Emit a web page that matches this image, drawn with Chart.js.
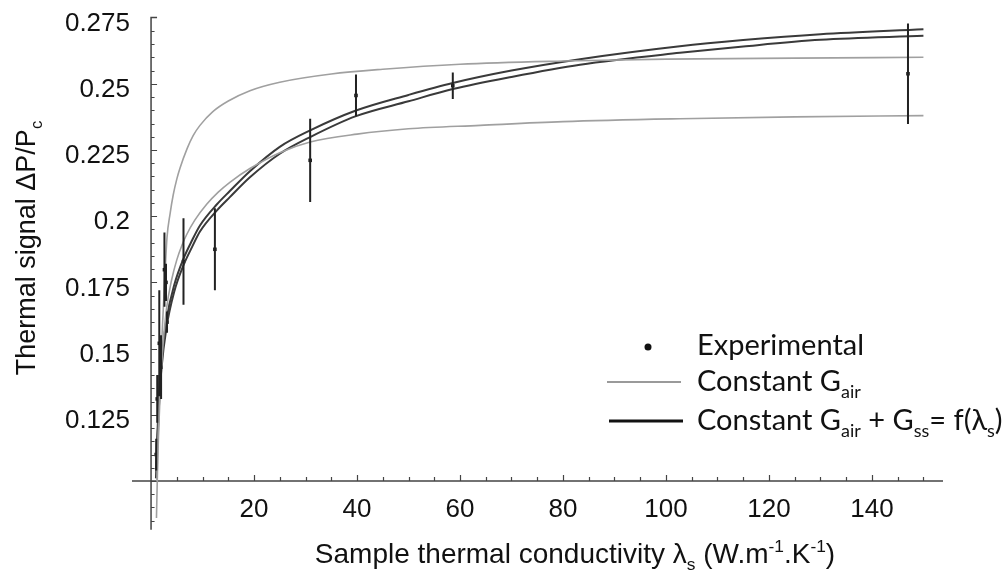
<!DOCTYPE html>
<html>
<head>
<meta charset="utf-8">
<script src="https://cdn.jsdelivr.net/npm/chart.js@4.4.0/dist/chart.umd.min.js"></script>
<style>
  html, body { margin: 0; padding: 0; background: #fff; }
  #chart { display: block; }
</style>
</head>
<body>
<canvas id="chart" width="1007" height="573"></canvas>
<script>
// Experimental points (x = lambda_s, y = dP/Pc, half error bar)
const expX   = [1.0, 1.2, 1.6, 1.95, 2.6, 2.9, 3.1, 6.3, 12.4, 30.9, 39.8, 58.6, 147.0];
const expY   = [0.110, 0.131, 0.152, 0.143, 0.1798, 0.175, 0.160, 0.1829, 0.1875, 0.2211, 0.2456, 0.2493, 0.2538];
const expErr = [0.006, 0.009, 0.020, 0.012, 0.014, 0.007, 0.004, 0.0163, 0.0155, 0.0157, 0.0079, 0.005, 0.019];

// Constant G_air, upper curve
const gairHiX = [1.15, 1.4, 1.8, 2.2, 2.7, 3.1, 3.7, 4.3, 5.0, 5.6, 7.0, 8.2, 9.5, 12, 15, 19.2, 25, 35, 45, 60, 80, 100, 125, 150];
const gairHiY = [0.100, 0.118, 0.140, 0.158, 0.178, 0.192, 0.201, 0.208, 0.214, 0.218, 0.2255, 0.2305, 0.2343, 0.2395, 0.2435, 0.2474, 0.2506, 0.2537, 0.2555, 0.2574, 0.2586, 0.2593, 0.2597, 0.2600];

// Constant G_air, lower curve
const gairLoX = [1.05, 1.3, 1.7, 2.2, 3.0, 4.0, 5.0, 6.0, 6.9, 8.5, 10.8, 13, 15.3, 19.2, 25, 30.9, 40, 50, 63.9, 80, 102.7, 125, 150];
const gairLoY = [0.086, 0.108, 0.130, 0.148, 0.165, 0.176, 0.1835, 0.189, 0.193, 0.1985, 0.2045, 0.209, 0.2128, 0.2180, 0.2240, 0.2280, 0.2310, 0.2330, 0.2343, 0.2357, 0.2368, 0.2375, 0.2380];

// Constant G_air + G_ss = f(lambda_s), two fits
const fitX   = [0.95, 1.1, 1.5, 2.0, 3.0, 4.5, 6.3, 8, 9.5, 12.8, 15.3, 19.2, 25, 30.9, 39.8, 50, 58.6, 70, 83.3, 102.7, 115, 130, 150];
const fitHiY = [0.104, 0.112, 0.130, 0.145, 0.161, 0.174, 0.184, 0.191, 0.1965, 0.2045, 0.2095, 0.2170, 0.2262, 0.2324, 0.2399, 0.2458, 0.2503, 0.2550, 0.2593, 0.2642, 0.2665, 0.2687, 0.2706];
const fitLoY = [0.101, 0.109, 0.127, 0.142, 0.158, 0.1715, 0.1815, 0.1885, 0.1942, 0.2022, 0.2072, 0.2147, 0.2236, 0.2299, 0.2378, 0.2434, 0.2480, 0.2526, 0.2572, 0.2617, 0.2641, 0.2666, 0.2681];

// axes
const xTicks = [20, 40, 60, 80, 100, 120, 140];
const yTicks = [0.125, 0.15, 0.175, 0.2, 0.225, 0.25, 0.275];
const xRange = [-3.7, 153.8];
const yRange = [0.1, 0.275];
const yAxisBottom = 0.0816;

const toPts = (xs, ys) => xs.map((x, i) => ({ x: x, y: ys[i] }));

const tickFont = { family: "'Liberation Sans', Arial, sans-serif", size: 26 };
const titleFamily = "'Liberation Sans', Arial, sans-serif";
const legendFamily = "Lato, 'Open Sans', sans-serif";

// draws text with sub/superscript pieces, returns width
function richText(ctx, parts, x, y, size, family, measureOnly) {
    let cx = x;
    parts.forEach(p => {
        const s = p.sub || p.sup ? size * 0.62 : size;
        ctx.font = s + 'px ' + family;
        const dy = p.sub ? size * 0.25 : (p.sup ? -size * 0.38 : 0);
        if (!measureOnly) ctx.fillText(p.t, cx, y + dy);
        cx += ctx.measureText(p.t).width;
    });
    return cx - x;
}

const axesPlugin = {
    id: 'axesPlugin',
    beforeDatasetsDraw(chart) {
        const ctx = chart.ctx;
        const xs = chart.scales.x, ys = chart.scales.y;
        const x0 = xs.getPixelForValue(0);
        const y0 = ys.getPixelForValue(0.1);
        ctx.save();
        ctx.strokeStyle = '#444';
        ctx.lineWidth = 1.5;
        ctx.beginPath();
        ctx.moveTo(x0, ys.getPixelForValue(yAxisBottom));
        ctx.lineTo(x0, ys.getPixelForValue(0.275));
        ctx.lineTo(x0 + 6, ys.getPixelForValue(0.275));
        ctx.moveTo(xs.getPixelForValue(xRange[0]), y0);
        ctx.lineTo(xs.getPixelForValue(xRange[1]), y0);
        ctx.stroke();
        // y ticks every 0.005, inward
        ctx.lineWidth = 1.2;
        ctx.beginPath();
        for (let k = 17; k <= 54; k++) {
            const v = k * 0.005;
            const major = k % 5 === 0;
            const py = Math.round(ys.getPixelForValue(v)) + 0.5;
            ctx.moveTo(x0, py);
            ctx.lineTo(x0 + (major ? 6 : 3.5), py);
        }
        // x ticks every 5, upward
        for (let k = 1; k <= 30; k++) {
            const v = k * 5;
            const major = v % 20 === 0;
            const px = Math.round(xs.getPixelForValue(v)) + 0.5;
            ctx.moveTo(px, y0);
            ctx.lineTo(px, y0 - (major ? 6 : 4));
        }
        ctx.stroke();
        ctx.restore();
    },
    afterDatasetsDraw(chart) {
        // error bars
        const ctx = chart.ctx;
        const xs = chart.scales.x, ys = chart.scales.y;
        ctx.save();
        ctx.strokeStyle = '#222';
        ctx.lineWidth = 2;
        ctx.beginPath();
        expX.forEach((x, i) => {
            const px = xs.getPixelForValue(x);
            ctx.moveTo(px, ys.getPixelForValue(expY[i] - expErr[i]));
            ctx.lineTo(px, ys.getPixelForValue(expY[i] + expErr[i]));
        });
        ctx.stroke();
        ctx.restore();
    },
    afterDraw(chart) {
        const ctx = chart.ctx;
        ctx.save();
        ctx.fillStyle = '#111';
        ctx.textBaseline = 'alphabetic';
        ctx.textAlign = 'left';

        // x title
        const xt = [{ t: 'Sample thermal conductivity \u03bb' }, { t: 's', sub: true }, { t: ' (W.m' }, { t: '-1', sup: true }, { t: '.K' }, { t: '-1', sup: true }, { t: ')' }];
        const wx = richText(ctx, xt, 0, 0, 28, titleFamily, true);
        richText(ctx, xt, 575 - wx / 2, 563, 28, titleFamily, false);

        // y title
        const yt = [{ t: 'Thermal signal \u0394P/P' }, { t: 'c', sub: true }];
        const wy = richText(ctx, yt, 0, 0, 27, titleFamily, true);
        ctx.save();
        ctx.translate(35, 248);
        ctx.rotate(-Math.PI / 2);
        richText(ctx, yt, -wy / 2, 0, 27, titleFamily, false);
        ctx.restore();

        // legend
        ctx.beginPath();
        ctx.arc(648, 347, 3.5, 0, Math.PI * 2);
        ctx.fill();
        ctx.lineWidth = 2;
        ctx.strokeStyle = '#9a9a9a';
        ctx.beginPath();
        ctx.moveTo(607, 382); ctx.lineTo(681, 382);
        ctx.stroke();
        ctx.lineWidth = 3;
        ctx.strokeStyle = '#111';
        ctx.beginPath();
        ctx.moveTo(609, 421); ctx.lineTo(683, 421);
        ctx.stroke();
        richText(ctx, [{ t: 'Experimental' }], 697, 355, 29, legendFamily, false);
        richText(ctx, [{ t: 'Constant G' }, { t: 'air', sub: true }], 697, 391, 29, legendFamily, false);
        richText(ctx, [{ t: 'Constant G' }, { t: 'air', sub: true }, { t: ' + G' }, { t: 'ss', sub: true }, { t: '= f(\u03bb' }, { t: 's', sub: true }, { t: ')' }], 697, 430, 29, legendFamily, false);
        ctx.restore();
    }
};

const curve = (data, color, width) => ({
    data: data,
    showLine: true,
    borderColor: color,
    borderWidth: width,
    pointRadius: 0,
    cubicInterpolationMode: 'monotone',
    clip: false
});

new Chart(document.getElementById('chart'), {
    type: 'scatter',
    data: {
        datasets: [
            curve(toPts(gairHiX, gairHiY), '#a0a0a0', 1.6),
            curve(toPts(gairLoX, gairLoY), '#a0a0a0', 1.6),
            curve(toPts(fitX, fitHiY), '#3a3a3a', 2),
            curve(toPts(fitX, fitLoY), '#3a3a3a', 2),
            {
                data: toPts(expX, expY),
                pointStyle: 'rect',
                pointRadius: 2.5,
                backgroundColor: '#111',
                borderColor: '#111',
                borderWidth: 0,
                clip: false
            }
        ]
    },
    options: {
        responsive: false,
        animation: false,
        devicePixelRatio: 1,
        events: [],
        layout: { padding: { left: 0, top: 15, right: 64, bottom: 0 } },
        plugins: { legend: { display: false }, tooltip: { enabled: false } },
        scales: {
            x: {
                type: 'linear',
                min: xRange[0],
                max: xRange[1],
                afterFit: s => { s.height = 92; },
                afterBuildTicks: s => { s.ticks = xTicks.map(v => ({ value: v })); },
                grid: { display: false, drawTicks: false },
                border: { display: false },
                ticks: { font: tickFont, color: '#111', padding: 13, maxRotation: 0, autoSkip: false, callback: v => String(v) }
            },
            y: {
                type: 'linear',
                min: yRange[0],
                max: yRange[1],
                afterFit: s => { s.width = 132; },
                afterBuildTicks: s => { s.ticks = yTicks.map(v => ({ value: v })); },
                grid: { display: false, drawTicks: false },
                border: { display: false },
                ticks: { font: tickFont, color: '#111', padding: 2, labelOffset: 6, autoSkip: false, callback: v => String(v) }
            }
        }
    },
    plugins: [axesPlugin]
});
</script>
</body>
</html>
